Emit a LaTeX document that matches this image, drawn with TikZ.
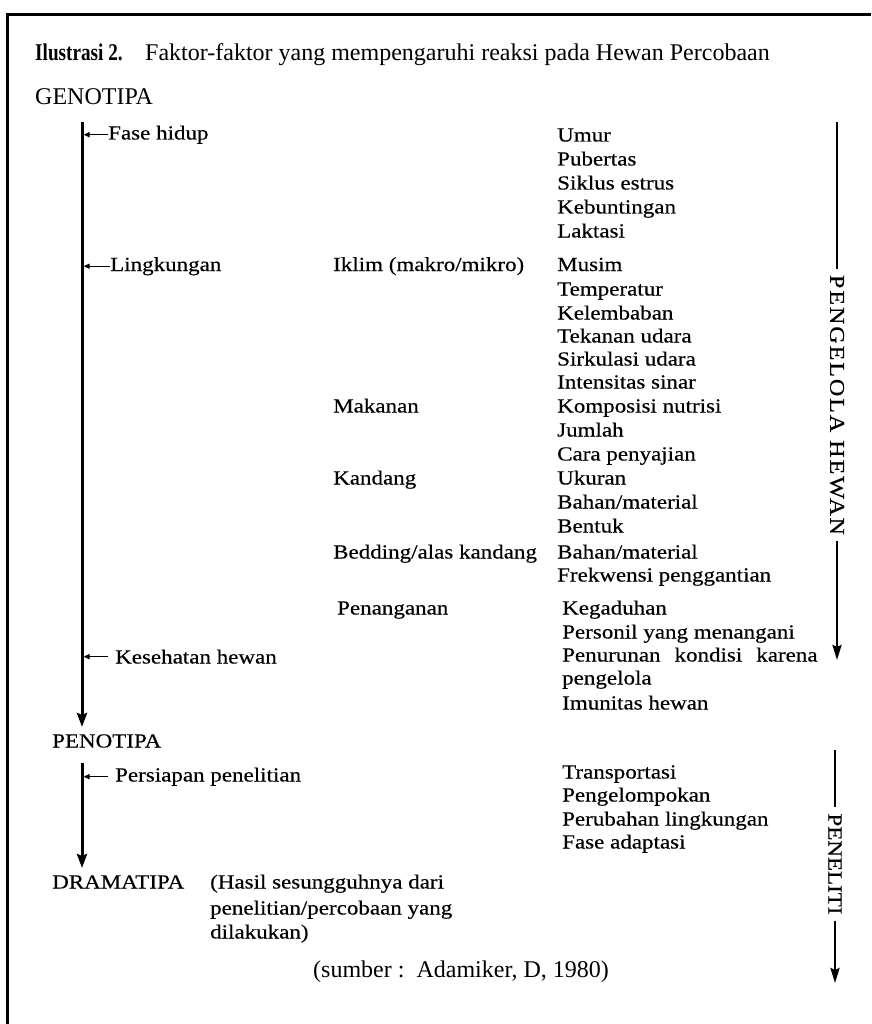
\documentclass[tikz,border=0pt]{standalone}
\usepackage{fontspec}
\setmainfont{Liberation Serif}
\newfontfamily\bodyface{Liberation Serif}[FakeStretch=1.15,FakeBold=0.4]
\newfontfamily\wideface{Liberation Serif}[FakeStretch=1.15,FakeBold=0.4,LetterSpace=9]
\newfontfamily\headface{Liberation Serif}
\newfontfamily\tagface{Liberation Serif}[FakeStretch=0.8]
\usetikzlibrary{arrows.meta}

\tikzset{
  body/.style={font=\bodyface\fontsize{20}{24}\selectfont, anchor=base west, inner sep=0pt},
  head/.style={font=\headface\fontsize{24}{28}\selectfont, anchor=base west, inner sep=0pt},
  vlabel/.style={font=\bodyface\fontsize{20}{24}\selectfont, rotate=-90, inner xsep=6pt, inner ysep=0pt},
  flow/.style={line width=3pt, -{Stealth[width=10pt,length=14pt,inset=2pt]}},
  side/.style={line width=1.2pt, -{Triangle[width=5pt,length=6pt]}, shorten >=1.5pt},
  actor/.style={line width=2.6pt},
  actorend/.style={line width=2.6pt, -{Stealth[width=9pt,length=15pt,inset=2pt]}},
}

\begin{document}
\begin{tikzpicture}[x=1pt,y=-1pt]
\useasboundingbox (0,0) rectangle (871,1024);
\fill[white] (0,0) rectangle (871,1024);

% frame
\draw[line width=3pt] (7,1024) -- (7,15) -- (871,15);

% heading
\node[head, font=\tagface\bfseries\fontsize{24}{28}\selectfont] (ilus) at (35,61) {Ilustrasi 2.};
\node[head] (title) at (145,61) {Faktor-faktor yang mempengaruhi reaksi pada Hewan Percobaan};

% stages
\node[head] (geno) at (35,105) {GENOTIPA};
\node[body] (peno) at (52,747.5) {PENOTIPA};
\node[body] (drama) at (52,888.5) {DRAMATIPA};

% main flow arrows
\coordinate (gtop) at (82,122);
\coordinate (gend) at (82,727);
\coordinate (ptop) at (82,763);
\coordinate (pend) at (82,868);
\draw[flow] (gtop) -- (gend);
\draw[flow] (ptop) -- (pend);

% factors along the flow
\node[body] (fase) at (108,139.5) {Fase hidup};
\node[body] (ling) at (110,271) {Lingkungan};
\node[body] (kes) at (115,663.5) {Kesehatan hewan};
\node[body] (pers) at (115,781.5) {Persiapan penelitian};
\draw[side] ([xshift=-0.5pt]fase.west) -- (fase.west -| gtop);
\draw[side] ([xshift=-0.5pt]ling.west) -- (ling.west -| gtop);
\draw[side] ([xshift=-7pt]kes.west) -- (kes.west -| gtop);
\draw[side] ([xshift=-7pt]pers.west) -- (pers.west -| gtop);

% environment groups
\node[body] (iklim) at (333,271) {Iklim (makro/mikro)};
\node[body] (makan) at (333,412.5) {Makanan};
\node[body] (kand) at (333,484.5) {Kandang};
\node[body] (bedd) at (333,558.5) {Bedding/alas kandang};
\node[body] (pena) at (337,614.5) {Penanganan};

% details
\node[body] (d1) at (557,141.5) {Umur};
\node[body] (d2) at (557,165.5) {Pubertas};
\node[body] (d3) at (557,189.5) {Siklus estrus};
\node[body] (d4) at (557,213.5) {Kebuntingan};
\node[body] (d5) at (557,237.5) {Laktasi};
\node[body] (d6) at (557,271) {Musim};
\node[body] (d7) at (557,295.5) {Temperatur};
\node[body] (d8) at (557,319.5) {Kelembaban};
\node[body] (d9) at (557,342.5) {Tekanan udara};
\node[body] (d10) at (557,365.5) {Sirkulasi udara};
\node[body] (d11) at (557,388.5) {Intensitas sinar};
\node[body] (d12) at (557,412.5) {Komposisi nutrisi};
\node[body] (d13) at (557,436.5) {Jumlah};
\node[body] (d14) at (557,460.5) {Cara penyajian};
\node[body] (d15) at (557,484.5) {Ukuran};
\node[body] (d16) at (557,508.5) {Bahan/material};
\node[body] (d17) at (557,532.5) {Bentuk};
\node[body] (d18) at (557,558.5) {Bahan/material};
\node[body] (d19) at (557,581.5) {Frekwensi penggantian};
\node[body] (d20) at (562,614.5) {Kegaduhan};
\node[body] (d21) at (562,638.5) {Personil yang menangani};
\node[body] (d22) at (562,661.5) {Penurunan\hspace{14pt}kondisi\hspace{14pt}karena};
\node[body] (d23) at (562,684.5) {pengelola};
\node[body] (d24) at (562,709.5) {Imunitas hewan};
\node[body] (d25) at (562,778.5) {Transportasi};
\node[body] (d26) at (562,801.5) {Pengelompokan};
\node[body] (d27) at (562,825.5) {Perubahan lingkungan};
\node[body] (d28) at (562,848.5) {Fase adaptasi};

% outcome note
\node[body] (h1) at (210,888.5) {(Hasil sesungguhnya dari};
\node[body] (h2) at (210,914.5) {penelitian/percobaan yang};
\node[body] (h3) at (210,938.5) {dilakukan)};

% source
\node[head] (src) at (313,977) {(sumber :\ \ Adamiker, D, 1980)};

% responsible parties
\node[vlabel, font=\wideface\fontsize{21}{24}\selectfont] (peng) at (837,405) {PENGELOLA HEWAN};
\coordinate (qtop) at (837,122);
\coordinate (qend) at (837,660);
\draw[actor] (qtop) -- (peng.west);
\draw[actorend] (peng.east) -- (qend);

\node[vlabel] (peli) at (835,864) {PENELITI};
\coordinate (rtop) at (835,750);
\coordinate (rend) at (835,983);
\draw[actor] (rtop) -- (peli.west);
\draw[actorend] (peli.east) -- (rend);
\end{tikzpicture}
\end{document}
